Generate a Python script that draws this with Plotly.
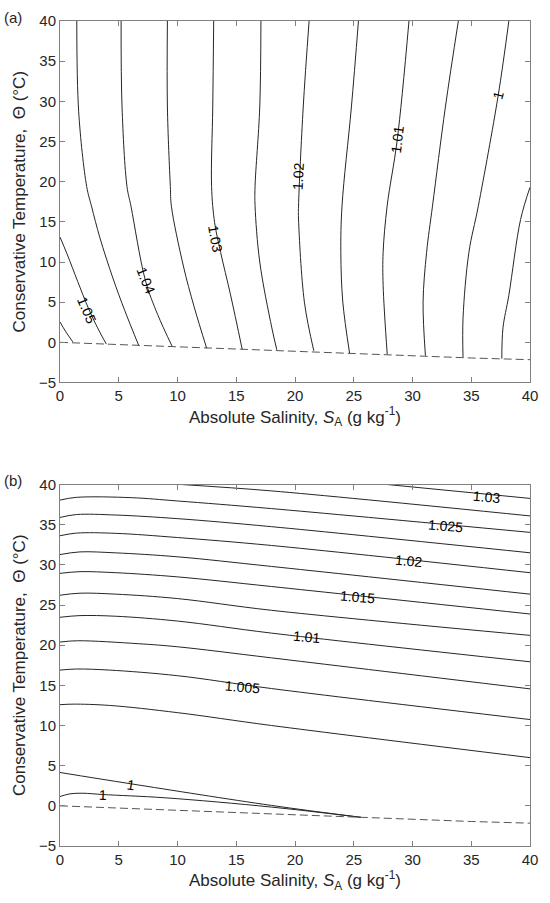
import plotly.graph_objects as go

# ---------------- data ----------------
FREEZE_S = [0, 5, 10, 15, 20, 25, 30, 35, 40]
FREEZE_T = [0.0, -0.28, -0.57, -0.86, -1.13, -1.41, -1.68, -1.95, -2.16]

# Panel (a) contour lines (S_A, Theta)
A_LEVELS = [1.055, 1.05, 1.045, 1.04, 1.035, 1.03, 1.025, 1.02, 1.015, 1.01, 1.005, 1.0, 0.995]
A_S = [
    [0.0, 0.5, 1.09],
    [0.0, 0.6, 1.5, 2.4, 3.2, 3.94],
    [1.43, 1.59, 2.27, 2.68, 3.4, 4.5, 5.5, 6.71],
    [5.2, 5.28, 5.7, 6.04, 7.27, 8.3, 9.56],
    [9.14, 9.14, 9.39, 9.48, 10.5, 11.4, 12.49],
    [13.08, 13.0, 12.9, 13.16, 13.67, 14.5, 15.51],
    [17.1, 17.0, 16.6, 16.6, 17.0, 18.03, 18.45],
    [21.2, 20.7, 20.3, 20.3, 20.8, 21.6],
    [25.4, 24.8, 24.0, 23.9, 24.07, 24.65],
    [29.7, 28.7, 27.84, 27.5, 27.5, 27.85],
    [33.9, 32.8, 31.7, 31.2, 30.9, 31.1],
    [38.2, 37.3, 35.6, 34.8, 34.3, 34.3],
    [40.0, 39.2, 38.2, 37.7, 37.6],
]
A_T = [
    [2.53, 1.3, 0.06],
    [13.1, 11.0, 7.6, 4.3, 1.8, -0.22],
    [40.0, 28.7, 19.4, 16.95, 13.0, 8.0, 4.0, -0.43],
    [40.0, 29.3, 19.4, 16.95, 7.7, 3.5, -0.55],
    [40.0, 29.3, 19.4, 16.95, 9.5, 4.5, -0.76],
    [40.0, 29.3, 19.4, 14.9, 11.2, 6.0, -0.89],
    [40.0, 29.3, 19.4, 17.0, 10.0, 1.79, -0.92],
    [40.0, 29.3, 16.95, 15.35, 5.0, -1.05],
    [40.0, 29.3, 16.95, 11.2, 5.0, -1.38],
    [40.0, 25.2, 16.95, 11.2, 7.1, -1.5],
    [40.0, 29.3, 16.95, 11.2, 5.0, -1.66],
    [40.0, 30.8, 16.95, 11.2, 3.0, -1.87],
    [19.3, 15.3, 5.86, 1.8, -2.03],
]
A_LABELS = ["1.05", "1.04", "1.03", "1.02", "1.01", "1"]
A_LABEL_S = [2.26, 7.27, 13.25, 20.3, 28.7, 37.3]
A_LABEL_T = [4.0, 7.7, 12.9, 20.65, 25.2, 30.8]
A_LABEL_ANGLE = [67, 68, 80, -87, -83, -75]

# Panel (b) contour lines
B_LEVELS = [1.03, 1.0275, 1.025, 1.0225, 1.02, 1.0175, 1.015, 1.0125, 1.01, 1.0075,
            1.005, 1.0025, 1.0, 1.0]
B_S = [
    [27.84, 40.0],
    [10.31, 18.03, 40.0],
    [0, 1.4, 6.1, 10, 18, 40],
    [0, 1.4, 4.75, 10, 18, 40],
    [0, 1.4, 4.75, 10, 18, 40],
    [0, 1.7, 4.75, 10, 18, 40],
    [0, 1.7, 4.75, 10, 18, 40],
    [0, 1.7, 4.75, 10, 18, 40],
    [0, 1.7, 4.75, 10, 18, 40],
    [0, 1.5, 6.7, 10, 18, 40],
    [0, 1.4, 4.2, 10, 18, 40],
    [0, 1.1, 4.2, 10, 18, 40],
    [0, 6.0, 18.0, 25.6],
    [0, 0.84, 1.95, 3.63, 8.95, 18.03, 25.6],
]
B_T = [
    [40.0, 38.27],
    [40.0, 39.2, 36.09],
    [38.06, 38.4, 38.36, 37.95, 37.0, 34.04],
    [35.9, 36.26, 36.2, 35.75, 34.75, 31.5],
    [33.62, 33.95, 33.92, 33.4, 32.41, 29.02],
    [31.28, 31.61, 31.49, 31.0, 29.8, 26.35],
    [28.94, 29.15, 29.02, 28.5, 27.3, 23.88],
    [26.22, 26.47, 26.35, 25.8, 24.34, 21.22],
    [23.47, 23.68, 23.6, 23.0, 21.5, 17.93],
    [20.39, 20.55, 20.18, 19.8, 18.42, 14.56],
    [16.9, 17.03, 16.9, 16.2, 14.6, 10.74],
    [12.59, 12.66, 12.5, 11.6, 10.0, 6.0],
    [4.15, 2.75, 0.05, -1.43],
    [1.16, 1.49, 1.57, 1.41, 1.0, -0.16, -1.43],
]
B_LABELS = ["1.03", "1.025", "1.02", "1.015", "1.01", "1.005", "1", "1"]
B_LABEL_S = [36.33, 32.85, 29.63, 25.3, 20.97, 15.51, 6.06, 3.69]
B_LABEL_T = [38.5, 34.78, 30.46, 25.94, 21.0, 14.83, 2.64, 1.41]
B_LABEL_ANGLE = [5, 5, 5, 5, 5, 5, 9, 2]

X_TICKS = [0, 5, 10, 15, 20, 25, 30, 35, 40]
Y_TICKS = [-5, 0, 5, 10, 15, 20, 25, 30, 35, 40]
PANEL_TAGS = ["(a)", "(b)"]

# ---------------- figure ----------------
LINE_COLOR = "#262626"
AX_COLOR = "#808080"
TXT_COLOR = "#262626"
FONT = "Arial, Liberation Sans, sans-serif"

W, H = 550, 903
ml, mr, mt, mb = 60, 13, 13, 57
pw, ph = W - ml - mr, H - mt - mb


def px_to_paper(px, py):
    return (px - ml) / pw, (H - mb - py) / ph


fig = go.Figure()

for xs, ys in zip(A_S, A_T):
    fig.add_trace(go.Scatter(x=xs, y=ys, mode="lines", xaxis="x", yaxis="y",
                             line=dict(color=LINE_COLOR, width=1, shape="spline", smoothing=1.0),
                             showlegend=False, hoverinfo="skip"))
fig.add_trace(go.Scatter(x=FREEZE_S, y=FREEZE_T, mode="lines", xaxis="x", yaxis="y",
                         line=dict(color="#555555", width=1, dash="8px,4px"),
                         showlegend=False, hoverinfo="skip"))

for xs, ys in zip(B_S, B_T):
    fig.add_trace(go.Scatter(x=xs, y=ys, mode="lines", xaxis="x2", yaxis="y2",
                             line=dict(color=LINE_COLOR, width=1, shape="spline", smoothing=1.0),
                             showlegend=False, hoverinfo="skip"))
fig.add_trace(go.Scatter(x=FREEZE_S, y=FREEZE_T, mode="lines", xaxis="x2", yaxis="y2",
                         line=dict(color="#555555", width=1, dash="8px,4px"),
                         showlegend=False, hoverinfo="skip"))

anns = []
for t, s, th, ang in zip(A_LABELS, A_LABEL_S, A_LABEL_T, A_LABEL_ANGLE):
    anns.append(dict(x=s, y=th, xref="x", yref="y", text=t, showarrow=False,
                     textangle=ang, font=dict(size=14, color="black", family=FONT)))
for t, s, th, ang in zip(B_LABELS, B_LABEL_S, B_LABEL_T, B_LABEL_ANGLE):
    anns.append(dict(x=s, y=th, xref="x2", yref="y2", text=t, showarrow=False,
                     textangle=ang, font=dict(size=14, color="black", family=FONT)))

for txt, (px, py) in zip(PANEL_TAGS, [(1, 9), (1, 477)]):
    xp, yp = px_to_paper(px, py)
    anns.append(dict(x=xp, y=yp, xref="paper", yref="paper", text=txt, showarrow=False,
                     xanchor="left", yanchor="middle",
                     font=dict(size=15, color=TXT_COLOR, family=FONT)))

xtitle = "Absolute Salinity, <i>S</i><sub>A</sub> (g kg<sup>-1</sup>)"
ytitle = "Conservative Temperature,  \u0398 (\u00b0C)"

axis_common = dict(range=[0, 40], tickvals=X_TICKS, ticks="inside", ticklen=5,
                   tickcolor=AX_COLOR, showline=True, linecolor=AX_COLOR, linewidth=1,
                   mirror="ticks", showgrid=False, zeroline=False,
                   tickfont=dict(size=15, color=TXT_COLOR, family=FONT))
yaxis_common = dict(range=[-5, 40], tickvals=Y_TICKS, ticks="inside", ticklen=5,
                    tickcolor=AX_COLOR, showline=True, linecolor=AX_COLOR, linewidth=1,
                    mirror="ticks", showgrid=False, zeroline=False,
                    tickfont=dict(size=15, color=TXT_COLOR, family=FONT))

ya_bot = (H - mb - 378) / ph
yb_top = (H - mb - 481) / ph

xt_font = dict(size=17, color=TXT_COLOR, family=FONT)
yt_font = dict(size=17, color=TXT_COLOR, family=FONT)

fig.update_layout(
    width=W, height=H,
    margin=dict(l=ml, r=mr, t=mt, b=mb),
    plot_bgcolor="white", paper_bgcolor="white",
    annotations=anns,
    xaxis=dict(domain=[0, 1], anchor="y",
               title=dict(text=xtitle, standoff=6, font=xt_font), **axis_common),
    yaxis=dict(domain=[ya_bot, 1], anchor="x",
               title=dict(text=ytitle, standoff=8, font=yt_font), **yaxis_common),
    xaxis2=dict(domain=[0, 1], anchor="y2",
                title=dict(text=xtitle, standoff=6, font=xt_font), **axis_common),
    yaxis2=dict(domain=[0, yb_top], anchor="x2",
                title=dict(text=ytitle, standoff=8, font=yt_font), **yaxis_common),
)

fig.write_html("out.html")
